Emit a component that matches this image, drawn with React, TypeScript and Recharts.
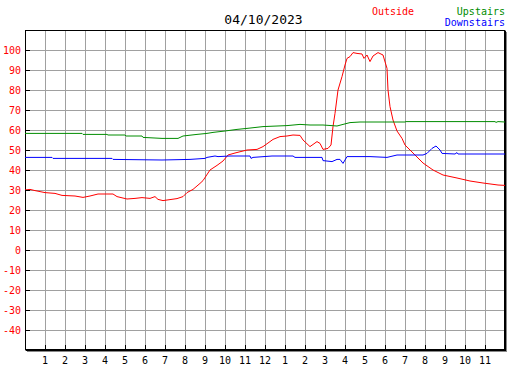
import React from "react";
import {
  LineChart,
  Line,
  XAxis,
  YAxis,
  CartesianGrid,
  ReferenceArea,
  Legend,
} from "recharts";

const chartTitle = "04/10/2023";
const hourTicks = [1, 2, 3, 4, 5, 6, 7, 8, 9, 10, 11, 12, 13, 14, 15, 16, 17, 18, 19, 20, 21, 22, 23];
const tempTicks = [-40, -30, -20, -10, 0, 10, 20, 30, 40, 50, 60, 70, 80, 90, 100];

// hours since midnight -> degrees
const outsideHours = [
  0, 0.25, 0.5, 1, 1.5, 1.85, 2.5, 2.9, 3.25, 3.65, 4.4, 4.6, 5.1, 5.5, 5.85, 6.25, 6.5, 6.65, 6.9, 7.6,
  7.9, 8.1, 8.4, 8.75, 8.9, 9.25, 9.6, 9.9, 10.15, 10.5, 11.1, 11.6, 11.9, 12.25, 12.4, 12.75, 13.1, 13.4,
  13.75, 13.9, 14.25, 14.6, 14.75, 14.9, 15.15, 15.3, 15.4, 15.5, 15.65, 15.85, 16, 16.1, 16.25, 16.4, 16.6,
  16.85, 16.95, 17.1, 17.25, 17.4, 17.65, 17.9, 18.1, 18.15, 18.25, 18.4, 18.6, 18.85, 19, 19.4, 19.9, 20.4,
  20.9, 21.6, 22.25, 22.9, 23.65, 24,
];
const outsideTemps = [
  30, 30.3, 29.7, 28.7, 28.3, 27.3, 27, 26.3, 27, 28, 28, 26.7, 25.5, 25.8, 26.2, 25.8, 26.7, 25.3, 24.7, 25.7,
  26.7, 28.7, 30.3, 33.3, 34.7, 40, 42.3, 44.5, 47.5, 48.5, 50, 50.3, 51.7, 54.2, 55.3, 56.7, 57, 57.5,
  57.3, 55, 51.7, 54.2, 53.3, 50.3, 50.8, 52.5, 61.7, 68.3, 80, 86.7, 92.5, 95.8, 96.7, 98.7, 98.3,
  98, 95.8, 97.5, 94.2, 97, 98.7, 97.5, 90.8, 80, 71.7, 65, 59.5, 55.8, 52.5, 48.5, 43.5, 40,
  37.5, 36, 34.5, 33.5, 32.5, 32.3,
];

const upstairsHours = [
  0, 2.85, 2.9, 4.1, 4.15, 5, 5.05, 5.85, 5.9, 6.85, 7.65, 7.9, 8.6, 9.1, 9.4, 10, 10.6, 11.1, 11.9, 13.1,
  13.75, 14.25, 14.9, 15.6, 15.9, 16.25, 16.75, 19, 19.05, 23.5, 23.55, 23.65, 24,
];
const upstairsTemps = [
  58.3, 58.3, 57.8, 57.8, 57.5, 57.5, 57, 57, 56.3, 55.8, 55.8, 57, 57.8, 58.3, 58.8, 59.5, 60.3, 60.8, 61.7, 62.2,
  62.8, 62.5, 62.5, 62, 62.8, 63.7, 64, 64, 64.2, 64.2, 63.8, 64.2, 64,
];

const downstairsHours = [
  0, 1.35, 1.4, 4.35, 4.4, 6.85, 8.25, 9, 9.1, 9.5, 9.65, 10.25, 11.25, 11.3, 11.4, 12.35, 13.4, 13.5, 14.85,
  14.9, 15.35, 15.6, 15.75, 15.9, 16.1, 17.25, 18.1, 18.6, 19.9, 20.1, 20.35, 20.55, 20.75, 20.85, 21.5, 21.6,
  21.65, 24,
];
const downstairsTemps = [
  46.3, 46.3, 45.8, 45.8, 45.3, 45, 45.3, 45.8, 46.3, 47, 46.7, 47, 47, 45.8, 46.3, 47, 47, 46.3, 46.3,
  44.7, 44.2, 45.3, 45.3, 43.3, 46.7, 46.7, 46.3, 47.5, 47.5, 48.3, 50.8, 52, 50, 48.3, 48, 48.7,
  48, 48,
];

const zip = (hours: number[], temps: number[]) => hours.map((t, i) => ({ t, v: temps[i] }));

const series = [
  { name: "Outside", color: "#ff0000", data: zip(outsideHours, outsideTemps) },
  { name: "Upstairs", color: "#008c00", data: zip(upstairsHours, upstairsTemps) },
  { name: "Downstairs", color: "#0000ff", data: zip(downstairsHours, downstairsTemps) },
];

const mono = "'DejaVu Sans Mono', monospace";

const YTick = (props: any) => {
  const { x, y, payload } = props;
  return (
    <g>
      <line x1={x} x2={x + 5} y1={y + 0.5} y2={y + 0.5} stroke="#000" strokeWidth={1} shapeRendering="crispEdges" />
      <text x={x - 4} y={y + 4} textAnchor="end" fill="#ff0000" fontSize={10} fontFamily={mono}>
        {payload.value}
      </text>
    </g>
  );
};

const XTick = (props: any) => {
  const { x, y, payload } = props;
  const h = payload.value > 12 ? payload.value - 12 : payload.value;
  return (
    <g>
      <line x1={x + 0.5} x2={x + 0.5} y1={y} y2={y - 5} stroke="#000" strokeWidth={1} shapeRendering="crispEdges" />
      <text x={x} y={y + 14} textAnchor="middle" fill="#000" fontSize={10} fontFamily={mono}>
        {h}
      </text>
    </g>
  );
};

const Frame = (props: any) => {
  const { x, y, width, height } = props;
  const r = x + width;
  const b = y + height;
  return (
    <g shapeRendering="crispEdges" fill="none">
      <rect x={x + 0.5} y={y + 0.5} width={width - 1} height={height - 1} stroke="#000" />
      <line x1={r + 0.5} x2={r + 0.5} y1={y + 1} y2={b + 1} stroke="#000" />
      <line x1={x + 1} x2={r + 1} y1={b + 0.5} y2={b + 0.5} stroke="#000" />
      <line x1={r + 1.5} x2={r + 1.5} y1={y + 2} y2={b + 2} stroke="#888" />
      <line x1={x + 2} x2={r + 2} y1={b + 1.5} y2={b + 1.5} stroke="#888" />
    </g>
  );
};

const Header = () => (
  <div style={{ position: "relative", width: 527, height: 30, fontFamily: mono, fontSize: 10 }}>
    <div style={{ position: "absolute", left: 0, width: 527, top: 12, textAlign: "center", fontSize: 13, lineHeight: "16px" }}>
      {chartTitle}
    </div>
    <div style={{ position: "absolute", left: 372, top: 6, color: series[0].color, lineHeight: "12px" }}>
      {series[0].name}
    </div>
    <div style={{ position: "absolute", right: 22, top: 6, color: series[1].color, lineHeight: "12px" }}>
      {series[1].name}
    </div>
    <div style={{ position: "absolute", right: 22, top: 17, color: series[2].color, lineHeight: "12px" }}>
      {series[2].name}
    </div>
  </div>
);

export default function App() {
  return (
    <div style={{ position: "absolute", left: 0, top: 0, background: "#fff" }}>
      <LineChart width={527} height={370} margin={{ top: 30, right: 22, left: 0, bottom: 0 }}>
        <CartesianGrid stroke="#a0a0a0" strokeWidth={1} shapeRendering="crispEdges" />
        <XAxis
          type="number"
          dataKey="t"
          domain={[0, 24]}
          ticks={hourTicks}
          height={20}
          axisLine={false}
          tickLine={false}
          tickSize={0}
          tickMargin={0}
          tick={<XTick />}
          interval={0}
          allowDataOverflow
        />
        <YAxis
          type="number"
          domain={[-50, 110]}
          ticks={tempTicks}
          width={25}
          axisLine={false}
          tickLine={false}
          tickSize={0}
          tickMargin={0}
          tick={<YTick />}
          interval={0}
          allowDataOverflow
        />
        <ReferenceArea x1={0} x2={24} y1={-50} y2={110} shape={<Frame />} ifOverflow="visible" />
        {series.map((s) => (
          <Line
            key={s.name}
            data={s.data}
            dataKey="v"
            name={s.name}
            type="linear"
            stroke={s.color}
            strokeWidth={1}
            dot={false}
            activeDot={false}
            isAnimationActive={false}
          />
        ))}
        <Legend
          verticalAlign="middle"
          align="center"
          content={() => <Header />}
          wrapperStyle={{ position: "absolute", left: 0, top: 0, width: 527, height: 30 }}
        />
      </LineChart>
    </div>
  );
}
